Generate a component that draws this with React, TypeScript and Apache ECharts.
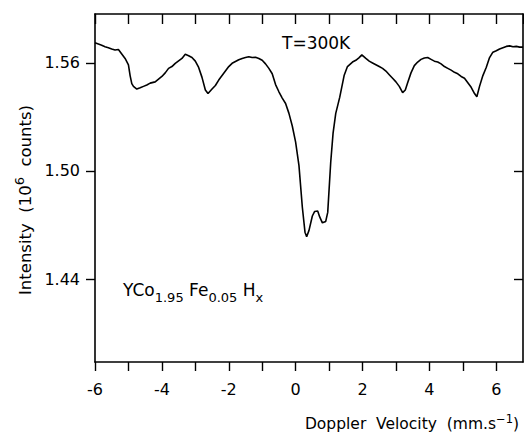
import React, { useEffect, useRef } from "react";
import * as echarts from "echarts";

// Doppler velocity (mm/s) and intensity (10^6 counts)
const velocity = [
  -6.0, -5.9, -5.8, -5.7, -5.6, -5.5, -5.4, -5.3, -5.2, -5.1, -5.0, -4.95, -4.9, -4.85, -4.75,
  -4.65, -4.55, -4.45, -4.35, -4.2, -4.1, -4.0, -3.9, -3.8, -3.7, -3.6, -3.5, -3.4, -3.3, -3.2,
  -3.1, -3.0, -2.9, -2.8, -2.7, -2.62, -2.5, -2.4, -2.3, -2.2, -2.1, -2.0, -1.9, -1.8, -1.7,
  -1.6, -1.5, -1.4, -1.3, -1.2, -1.1, -1.0, -0.9, -0.8, -0.7, -0.6, -0.5, -0.4, -0.3, -0.2,
  -0.1, 0.0, 0.1, 0.2, 0.28, 0.33, 0.4, 0.5, 0.57, 0.66, 0.72, 0.8, 0.9, 0.96, 1.05,
  1.12, 1.2, 1.32, 1.45, 1.55, 1.7, 1.8, 1.9, 1.98, 2.1, 2.2, 2.3, 2.4, 2.5, 2.6,
  2.7, 2.8, 2.9, 3.0, 3.1, 3.2, 3.28, 3.35, 3.45, 3.55, 3.65, 3.75, 3.85, 3.95, 4.05,
  4.15, 4.25, 4.35, 4.45, 4.55, 4.65, 4.75, 4.85, 4.95, 5.05, 5.15, 5.25, 5.35, 5.42, 5.5,
  5.6, 5.7, 5.8, 5.9, 6.0, 6.1, 6.2, 6.3, 6.4, 6.5, 6.6, 6.7, 6.8,
];
const intensity = [
  1.5712, 1.5705, 1.5698, 1.569, 1.5685, 1.5678, 1.5672, 1.5675, 1.565, 1.5625, 1.559, 1.553, 1.5485, 1.547, 1.5455,
  1.5462, 1.547, 1.5478, 1.5488, 1.5495, 1.551, 1.5525, 1.5545, 1.557, 1.558, 1.5598, 1.5612, 1.5625, 1.5648, 1.564,
  1.563, 1.561, 1.5575, 1.552, 1.545, 1.543, 1.5455, 1.5475, 1.5505, 1.553, 1.5555, 1.558, 1.5598, 1.5608, 1.5618,
  1.5625, 1.563, 1.5635, 1.563, 1.5632, 1.5625, 1.5615, 1.5595, 1.557, 1.554, 1.548, 1.544, 1.5405, 1.5375, 1.532,
  1.525, 1.516, 1.503, 1.48, 1.466, 1.4635, 1.467, 1.475, 1.4775, 1.4778, 1.4745, 1.4712, 1.472, 1.477, 1.505,
  1.521, 1.532, 1.541, 1.553, 1.558, 1.5605, 1.5615, 1.563, 1.5645, 1.5625, 1.561, 1.56, 1.559, 1.558, 1.557,
  1.5555, 1.5535, 1.5515, 1.5495, 1.547, 1.5435, 1.545, 1.549, 1.5545, 1.5585, 1.5605, 1.562, 1.5628, 1.563, 1.562,
  1.561, 1.5605, 1.5595, 1.558, 1.557, 1.556, 1.5548, 1.554, 1.5525, 1.5515, 1.549, 1.5465, 1.543, 1.5412, 1.547,
  1.553, 1.5575, 1.563, 1.566, 1.5668, 1.5678, 1.5685, 1.5692, 1.5695, 1.569, 1.5692, 1.5688, 1.5688,
];
const yTickValues = [1.44, 1.5, 1.56];
const xLabelValues = [-6, -4, -2, 0, 2, 4, 6];

const FONT = "DejaVu Sans";

export default function App() {
  const ref = useRef<HTMLDivElement>(null);
  useEffect(() => {
    if (!ref.current) return;
    const chart = echarts.init(ref.current, null, { renderer: "svg" });
    const data = velocity.map((v, i) => [v, intensity[i]]);
    const axisLine = { show: true, onZero: false, lineStyle: { color: "#000", width: 1.6 } };
    chart.setOption({
      animation: false,
      backgroundColor: "#fff",
      grid: { left: 95, right: 1, top: 14, bottom: 71 },
      xAxis: [
        {
          type: "value",
          position: "bottom",
          min: -6,
          max: 6.8,
          interval: 1,
          axisLine,
          axisTick: { show: true, inside: false, length: 9, lineStyle: { color: "#000", width: 1.4 } },
          axisLabel: {
            showMaxLabel: false,
            margin: 19,
            fontSize: 16,
            color: "#000",
            fontFamily: FONT,
            formatter: (v: number) =>
              xLabelValues.some((x) => Math.abs(x - v) < 1e-6) ? String(Math.round(v)) : "",
          },
          splitLine: { show: false },
        },
        {
          type: "value",
          position: "top",
          min: -6,
          max: 6.8,
          interval: 1,
          axisLine,
          axisTick: { show: true, inside: true, length: 10, lineStyle: { color: "#000", width: 1.4 } },
          axisLabel: { show: false },
          splitLine: { show: false },
        },
      ],
      yAxis: [
        {
          type: "value",
          position: "left",
          min: 1.3939,
          max: 1.5872,
          axisLine,
          axisTick: { show: true, inside: false, length: 9, customValues: yTickValues, lineStyle: { color: "#000", width: 1.4 } },
          axisLabel: {
            customValues: yTickValues,
            margin: 15,
            fontSize: 16,
            color: "#000",
            fontFamily: FONT,
            formatter: (v: number) => v.toFixed(2),
          },
          splitLine: { show: false },
        },
        {
          type: "value",
          position: "right",
          min: 1.3939,
          max: 1.5872,
          axisLine,
          axisTick: { show: true, inside: true, length: 9, customValues: yTickValues, lineStyle: { color: "#000", width: 1.4 } },
          axisLabel: { show: false },
          splitLine: { show: false },
        },
      ],
      series: [
        {
          type: "line",
          xAxisIndex: 0,
          yAxisIndex: 0,
          data,
          showSymbol: false,
          symbol: "none",
          smooth: false,
          lineStyle: { color: "#000", width: 1.6 },
        },
      ],
      graphic: [
        {
          type: "text",
          x: 282,
          y: 43,
          style: {
            text: "T=300K",
            fontSize: 17,
            fontFamily: FONT,
            fill: "#000",
            textAlign: "left",
            textVerticalAlign: "middle",
          },
        },
        {
          type: "text",
          x: 123,
          y: 290,
          style: {
            text: "{m|YCo}{s|1.95}{m| Fe}{s|0.05}{m| H}{s|x}",
            fill: "#000",
            textAlign: "left",
            textVerticalAlign: "middle",
            rich: {
              m: { fontSize: 17, fontFamily: FONT, fill: "#000", lineHeight: 20 },
              s: { fontSize: 13, fontFamily: FONT, fill: "#000", lineHeight: 14, padding: [14, 0, 0, 0] },
            },
          },
        },
        {
          type: "text",
          x: 25,
          y: 200,
          rotation: Math.PI / 2,
          style: {
            text: "{m|Intensity  (10}{p|6}{m|  counts)}",
            fill: "#000",
            textAlign: "center",
            textVerticalAlign: "middle",
            rich: {
              m: { fontSize: 16.5, fontFamily: FONT, fill: "#000", lineHeight: 19 },
              p: { fontSize: 13, fontFamily: FONT, fill: "#000", lineHeight: 13, padding: [0, 0, 12, 0] },
            },
          },
        },
        {
          type: "text",
          x: 519,
          y: 424,
          style: {
            text: "{m|Doppler  Velocity  (mm.s}{p|−1}{m|)}",
            fill: "#000",
            textAlign: "right",
            textVerticalAlign: "middle",
            rich: {
              m: { fontSize: 15.5, fontFamily: FONT, fill: "#000", lineHeight: 19 },
              p: { fontSize: 11.5, fontFamily: FONT, fill: "#000", lineHeight: 12, padding: [0, 0, 10, 0] },
            },
          },
        },
      ],
    });
    return () => chart.dispose();
  }, []);
  return (
    <div
      ref={ref}
      style={{ position: "fixed", left: 0, top: 0, width: 524, height: 433, background: "#fff" }}
    />
  );
}
